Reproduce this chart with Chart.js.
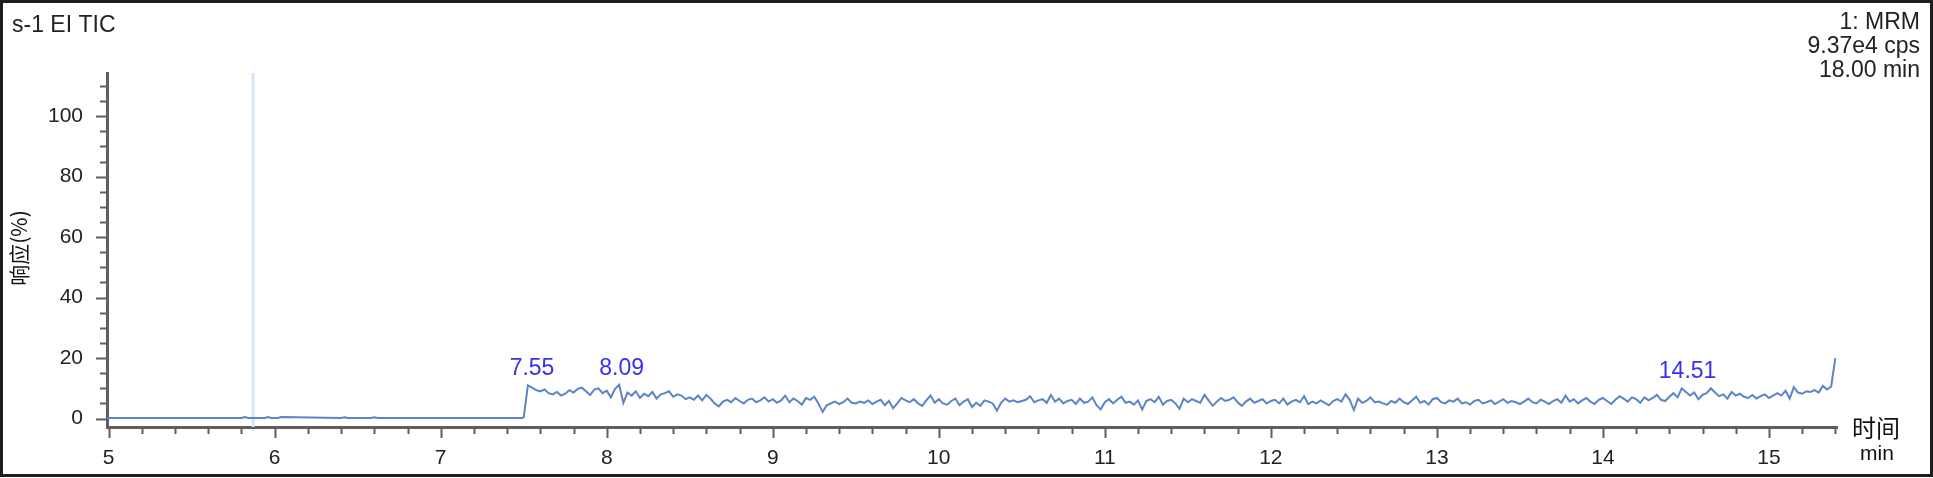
<!DOCTYPE html>
<html lang="zh">
<head>
<meta charset="UTF-8">
<title>s-1 EI TIC</title>
<script src="https://cdn.jsdelivr.net/npm/chart.js"></script>
<style>
  body { margin: 0; background: #fff; }
  #wrap { width: 1933px; height: 478px; }
</style>
</head>
<body>
<div id="wrap"><canvas id="tic" width="1933" height="478"></canvas></div>
<script>
// 基线部分 (min, %)
const baseTimes = [4.99, 5.80, 5.82, 5.84, 5.94, 5.96, 5.98, 6.02, 6.04, 6.40, 6.42, 6.44, 6.58, 6.60, 6.62, 7.20, 7.49];
const baseResp  = [0.2, 0.2, 0.5, 0.2, 0.2, 0.5, 0.2, 0.2, 0.5, 0.2, 0.4, 0.2, 0.2, 0.4, 0.2, 0.2, 0.2];

// 7.50 min 以后的信号, 每 0.025 min 一个点
const traceStart = 7.50;
const traceStep = 0.025;
const traceResp = [
  0.4, 11.0, 10.2, 9.4, 9.0, 9.6, 8.4, 8.0, 8.8, 7.6, 8.2, 9.4, 8.6, 9.8, 10.2, 9.0, 7.8, 9.6, 10.0, 8.4,
  9.2, 7.0, 9.8, 11.2, 5.2, 8.6, 7.6, 9.0, 6.8, 8.2, 7.4, 8.8, 6.6, 8.0, 8.4, 9.0, 7.2, 8.0, 7.6, 6.4,
  7.0, 6.2, 7.6, 6.0, 7.8, 6.6, 5.0, 4.0, 5.6, 6.2, 5.4, 6.8, 5.8, 5.0, 6.2, 6.6, 5.4, 6.0, 7.0, 5.6,
  6.4, 5.2, 6.0, 7.6, 5.4, 6.6, 5.8, 4.6, 6.8, 6.2, 7.2, 5.0, 2.2, 4.4, 5.0, 5.6, 4.8, 5.4, 6.6, 5.2,
  5.0, 5.6, 5.2, 6.0, 4.8, 5.6, 6.2, 4.4, 5.8, 3.4, 5.0, 6.8, 6.0, 5.4, 6.4, 5.0, 4.2, 6.0, 7.6, 5.2,
  6.4, 5.0, 4.6, 5.8, 6.6, 4.4, 5.6, 6.4, 3.8, 5.2, 4.2, 6.0, 5.6, 5.0, 2.6, 5.2, 6.6, 5.6, 6.0, 5.4,
  5.8, 6.2, 7.4, 5.4, 6.0, 6.4, 5.2, 7.8, 5.6, 6.6, 5.0, 5.8, 6.2, 4.8, 6.6, 5.2, 5.6, 7.0, 4.4, 3.0,
  5.4, 6.4, 5.0, 6.2, 7.2, 5.2, 5.6, 4.6, 6.0, 3.0, 5.8, 6.4, 5.4, 7.2, 4.6, 5.8, 6.2, 5.0, 3.2, 6.6,
  5.4, 6.4, 5.8, 5.2, 7.8, 6.0, 4.2, 5.6, 6.8, 5.8, 6.2, 7.0, 5.4, 4.2, 5.6, 6.6, 5.2, 5.8, 6.4, 5.0,
  5.8, 6.2, 5.0, 6.6, 4.6, 5.6, 6.2, 5.4, 7.4, 4.8, 5.6, 5.0, 6.0, 5.2, 4.4, 5.8, 6.4, 5.6, 8.0, 6.2,
  2.8, 6.6, 5.2, 5.8, 7.0, 5.4, 5.6, 5.0, 4.6, 5.8, 5.2, 6.6, 5.4, 4.8, 6.0, 7.2, 5.2, 5.8, 4.6, 6.4,
  6.8, 5.4, 5.0, 6.0, 5.6, 6.6, 5.0, 5.4, 4.6, 5.8, 6.2, 5.0, 5.4, 6.0, 4.8, 5.6, 6.4, 5.2, 5.8, 5.4,
  4.8, 5.6, 6.6, 5.4, 5.0, 6.2, 5.6, 4.8, 5.8, 6.4, 5.2, 7.6, 5.6, 6.4, 5.0, 6.0, 6.8, 5.6, 4.8, 6.2,
  6.8, 5.8, 4.8, 6.2, 7.4, 6.6, 5.6, 7.0, 6.4, 5.2, 7.0, 6.0, 6.8, 7.8, 6.2, 5.8, 7.2, 8.4, 7.0, 10.0,
  8.8, 7.6, 8.6, 6.4, 7.8, 8.4, 10.0, 8.6, 7.4, 8.0, 6.6, 8.8, 7.6, 8.2, 7.2, 6.8, 7.8, 6.6, 7.4, 8.0,
  6.8, 7.6, 8.4, 7.6, 9.2, 6.6, 10.4, 8.6, 8.2, 9.0, 8.8, 9.4, 8.6, 10.8, 9.6, 10.6, 20.0
];

// 峰标注
const peakTimes  = [7.55, 8.09, 14.51];
const peakTops   = [11.0, 11.2, 10.0];
const peakLabels = ['7.55', '8.09', '14.51'];

// 蓝色竖线 (min)
const markerTime = 5.87;

// 坐标轴
const xTicks = [5, 6, 7, 8, 9, 10, 11, 12, 13, 14, 15];
const yTicks = [0, 20, 40, 60, 80, 100];
const xMin = 4.99, xMax = 15.41;
const yMin = -2.8, yMax = 114.3;

let points = [];
for (let i = 0; i < baseTimes.length; i++) {
  points.push({ x: baseTimes[i], y: baseResp[i] });
}
for (let i = 0; i < traceResp.length; i++) {
  points.push({ x: +(traceStart + i * traceStep).toFixed(3), y: traceResp[i] });
}

const axisColor = '#5e5e5e';
const latin = '"Liberation Sans", Arial, sans-serif';

// 背景, 边框, 刻度和文字
const decorations = {
  id: 'decorations',
  beforeDraw(chart) {
    const c = chart.ctx;
    c.save();
    c.fillStyle = '#fff';
    c.fillRect(0, 0, chart.width, chart.height);
    c.restore();
  },
  afterDraw(chart) {
    const c = chart.ctx;
    const xs = chart.scales.x, ys = chart.scales.y;
    const area = chart.chartArea;
    c.save();

    // 刻度线
    c.strokeStyle = axisColor;
    c.lineWidth = 2;
    c.beginPath();
    for (let v = 5; v <= xMax + 1e-6; v += 0.2) {
      const major = Math.abs(v - Math.round(v)) < 1e-6;
      const px = Math.round(xs.getPixelForValue(v)) + 0.5;
      c.moveTo(px, area.bottom);
      c.lineTo(px, area.bottom + (major ? 11 : 7));
    }
    for (let v = 0; v <= yMax; v += 5) {
      const major = v % 20 === 0;
      const py = Math.round(ys.getPixelForValue(v)) + 0.5;
      c.moveTo(area.left, py);
      c.lineTo(area.left - (major ? 11 : 7), py);
    }
    c.stroke();

    // 外框
    c.strokeStyle = '#1e1e1e';
    c.lineWidth = 3;
    c.strokeRect(1.5, 1.5, chart.width - 3, chart.height - 4);

    // 标题文字
    c.fillStyle = '#222';
    c.font = '23px ' + latin;
    c.textAlign = 'left';
    c.textBaseline = 'alphabetic';
    c.fillText('s-1 EI TIC', 12, 32);
    c.textAlign = 'right';
    c.fillText('1: MRM', 1920, 29);
    c.fillText('9.37e4 cps', 1920, 53);
    c.fillText('18.00 min', 1920, 77);

    // 峰标注
    c.fillStyle = '#3a30ee';
    c.font = '23px ' + latin;
    c.textAlign = 'center';
    c.textBaseline = 'bottom';
    for (let i = 0; i < peakTimes.length; i++) {
      c.fillText(peakLabels[i], xs.getPixelForValue(peakTimes[i]), ys.getPixelForValue(peakTops[i]) - 5);
    }

    // 轴标题
    c.fillStyle = '#111';
    c.textAlign = 'center';
    c.textBaseline = 'middle';
    c.font = '24px "Noto Sans CJK SC", sans-serif';
    c.fillText('时间', 1876, 428);
    c.font = '21px ' + latin;
    c.fillText('min', 1877, 454);

    c.translate(19, 248);
    c.rotate(-Math.PI / 2);
    c.font = '21px "Noto Sans CJK SC", sans-serif';
    c.fillText('响应(%)', 0, 0);
    c.restore();
  }
};

new Chart(document.getElementById('tic'), {
  type: 'line',
  data: {
    datasets: [
      {
        label: 'TIC',
        data: points,
        borderColor: 'rgb(92,132,198)',
        borderWidth: 2,
        pointRadius: 0,
        tension: 0,
        order: 1
      },
      {
        label: 'marker',
        data: [{ x: markerTime, y: yMin }, { x: markerTime, y: yMax }],
        borderColor: '#d2e8f8',
        borderWidth: 3,
        pointRadius: 0,
        order: 2
      }
    ]
  },
  options: {
    responsive: false,
    animation: false,
    layout: { autoPadding: false, padding: { left: 0, right: 96, top: 73, bottom: 0 } },
    plugins: { legend: { display: false }, tooltip: { enabled: false } },
    scales: {
      x: {
        type: 'linear',
        min: xMin,
        max: xMax,
        afterBuildTicks: s => { s.ticks = xTicks.map(v => ({ value: v })); },
        afterFit: s => { s.height = 51; },
        grid: { display: false, drawTicks: false },
        border: { display: true, color: axisColor, width: 3 },
        ticks: {
          color: '#222',
          padding: 19,
          maxRotation: 0,
          font: { family: latin, size: 21 }
        }
      },
      y: {
        type: 'linear',
        min: yMin,
        max: yMax,
        afterBuildTicks: s => { s.ticks = yTicks.map(v => ({ value: v })); },
        afterFit: s => { s.width = 107; },
        grid: { display: false, drawTicks: false },
        border: { display: true, color: axisColor, width: 3 },
        ticks: {
          color: '#222',
          padding: 24,
          font: { family: latin, size: 21 }
        }
      }
    }
  },
  plugins: [decorations]
});
</script>
</body>
</html>
